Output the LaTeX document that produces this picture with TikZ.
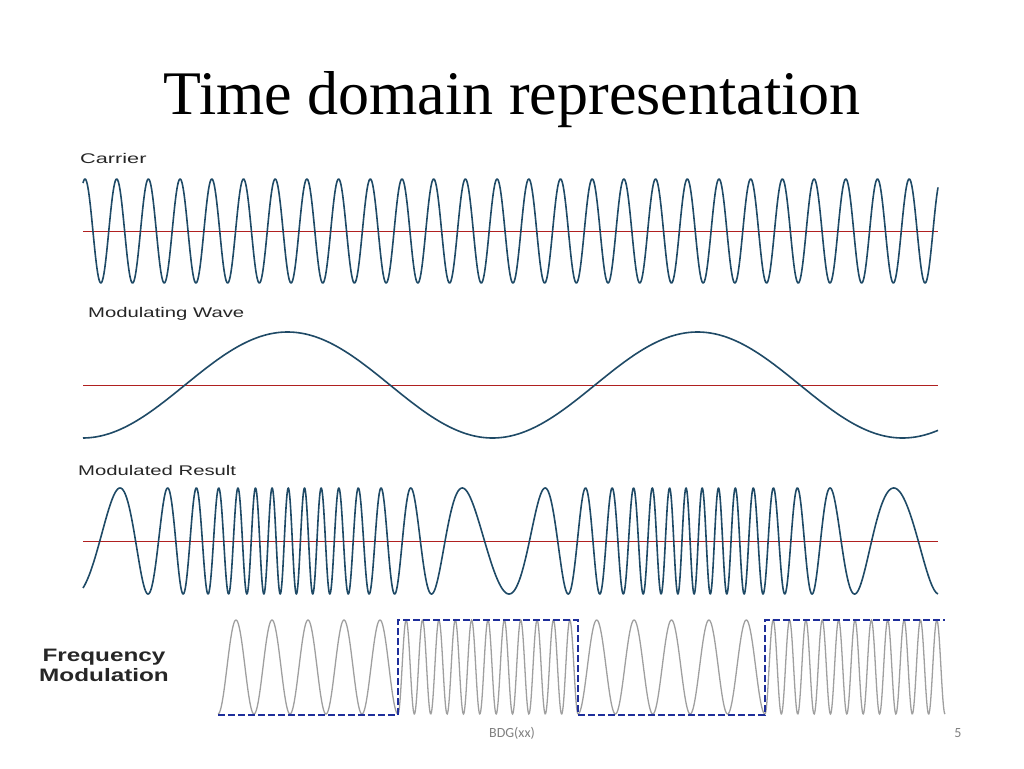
\documentclass[tikz,border=0pt]{standalone}
\usepackage{fontspec}
\setmainfont{Liberation Serif}
\newfontfamily\lsans{Liberation Sans}
\newfontfamily\carl{Carlito}
\definecolor{wave}{HTML}{1F4A66}
\definecolor{axisred}{HTML}{B02020}
\definecolor{fmblue}{HTML}{1E2E9A}
\begin{document}
\begin{tikzpicture}[x=1pt,y=-1pt,
  wv/.style={draw=wave,line width=1.6pt,line join=round},
  ax/.style={draw=axisred,line width=0.8pt},
  lbl/.style={font=\lsans\fontsize{14}{14}\selectfont,anchor=west,inner sep=0pt,text=black!85}]
\useasboundingbox (0,0) rectangle (1024,768);
\node (title) at (512,100) {\fontsize{62}{62}\selectfont Time domain representation};
% Carrier
\node[lbl] (lc) at (80,158) {\scalebox{1.55}[1]{Carrier}};
\coordinate (c1) at (83,231); \coordinate (c2) at (938,231);
\draw[ax] (c1) -- (c2);
\draw[wv] plot[domain=83:938,samples=1400] (\x,{231-52*cos((\x-85)/31.7*360)});
% Modulating
\node[lbl] (lm) at (88,314) {\scalebox{1.45}[1]{Modulating Wave}};
\coordinate (m1) at (83,385); \coordinate (m2) at (938,385);
\draw[ax] (m1) -- (m2);
\draw[wv] plot[domain=83:938,samples=400] (\x,{385-53*sin((\x-185)/410*360)});
% Modulated result
\node[lbl] (lr) at (78,470) {\scalebox{1.45}[1]{Modulated Result}};
\coordinate (r1) at (83,541); \coordinate (r2) at (938,541);
\draw[ax] (r1) -- (r2);
\draw[wv] plot[domain=83:938,samples=2000] (\x,{541-53*cos(360*(0.036*\x-1.6966*cos((\x-185)/410*360)-3.3977))});
% Frequency modulation picture
\node[font=\lsans\bfseries\fontsize{18}{20}\selectfont,text=black!85] (lf) at (104,667) {\scalebox{1.35}[1]{\begin{tabular}{@{}c@{}}Frequency\\Modulation\end{tabular}}};
\begin{scope}[draw=gray!75,line width=1.3pt]
\draw plot[domain=218:398,samples=300] (\x,{667+47*cos((\x-218)/36*360)});
\draw plot[domain=398:578,samples=400] (\x,{667+47*cos((\x-398)/16.3636*360)});
\draw plot[domain=578:765,samples=300] (\x,{667+47*cos((\x-578)/37.4*360)});
\draw plot[domain=765:945,samples=400] (\x,{667+47*cos((\x-765)/16.3636*360)});
\end{scope}
\coordinate (s0) at (218,715); \coordinate (s1) at (398,715); \coordinate (s2) at (398,620);
\coordinate (s3) at (578,620); \coordinate (s4) at (578,715); \coordinate (s5) at (765,715);
\coordinate (s6) at (765,620); \coordinate (s7) at (945,620);
\draw[fmblue,dash pattern=on 7pt off 3pt,line width=2.2pt] (s0) -- (s1) -- (s2) -- (s3) -- (s4) -- (s5) -- (s6) -- (s7);
% footer
\node[font=\carl\fontsize{14}{14}\selectfont,text=gray] (ft) at (512,733) {BDG(xx)};
\node[font=\carl\fontsize{14}{14}\selectfont,text=gray] (pg) at (958,733) {5};
\end{tikzpicture}
\end{document}
